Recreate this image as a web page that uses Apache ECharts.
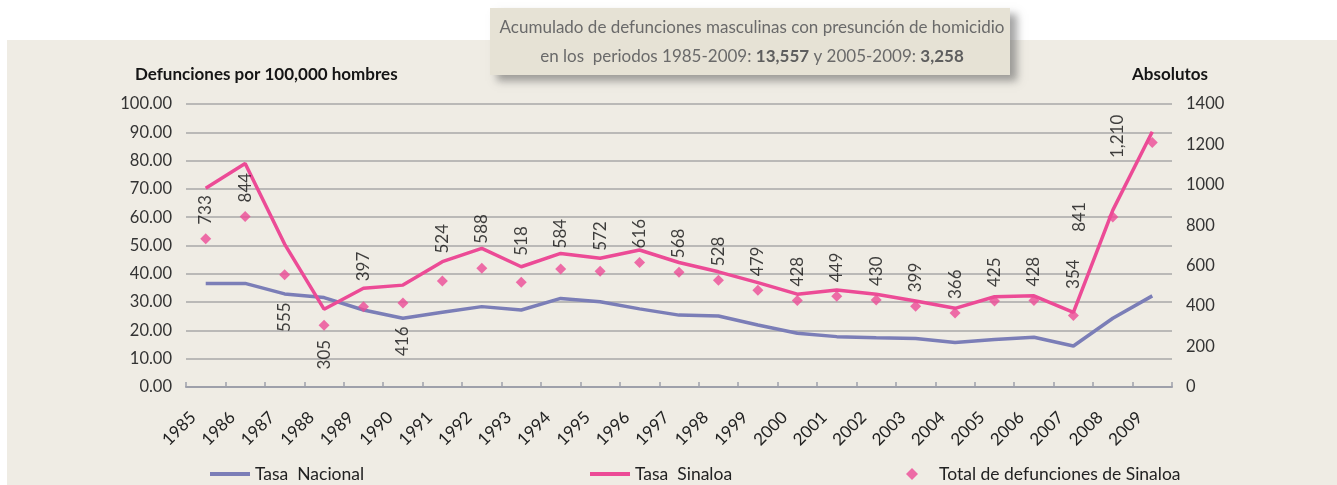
<!DOCTYPE html>
<html>
<head>
<meta charset="utf-8">
<script src="https://cdn.jsdelivr.net/npm/echarts@6/dist/echarts.min.js"></script>
<style>
  html, body { margin: 0; padding: 0; background: #ffffff; }
  #chart { width: 1337px; height: 485px; }
</style>
</head>
<body>
<div id="chart"></div>
<script>
// Homicidios masculinos: tasas por 100,000 hombres y total de defunciones en Sinaloa
const years = ['1985','1986','1987','1988','1989','1990','1991','1992','1993','1994','1995','1996','1997',
               '1998','1999','2000','2001','2002','2003','2004','2005','2006','2007','2008','2009'];
const tasaNacional = [36.6, 36.6, 32.9, 31.6, 27.2, 24.3, 26.4, 28.4, 27.2, 31.3, 30.1, 27.6, 25.4,
                      25.1, 21.9, 19.0, 17.8, 17.4, 17.1, 15.7, 16.8, 17.6, 14.5, 24.3, 32.2];
const tasaSinaloa = [70.2, 79.0, 50.5, 27.5, 34.9, 36.0, 44.3, 49.0, 42.5, 47.2, 45.5, 48.4, 44.0,
                     40.7, 36.9, 32.8, 34.3, 32.8, 30.4, 27.8, 31.9, 32.2, 26.4, 62.5, 90.2];
const totalSinaloa = [733, 844, 555, 305, 397, 416, 524, 588, 518, 584, 572, 616, 568,
                      528, 479, 428, 449, 430, 399, 366, 425, 428, 354, 841, 1210];

const seriesNames = ['Tasa  Nacional', 'Tasa  Sinaloa', 'Total de defunciones de Sinaloa'];
const leftAxisName = 'Defunciones por 100,000 hombres';
const rightAxisName = 'Absolutos';

const FONT = 'Lato, "Open Sans", sans-serif';
const PINK = '#EC4B96';
const BLUE = '#7B7EB7';

const fmt = n => n.toLocaleString('en-US');
const sumFrom = start => totalSinaloa.slice(years.indexOf(start)).reduce((a, b) => a + b, 0);

// Where each value label sits around its diamond (default: above, small gap)
const labelLayout = {
  '1987': { side: 'below', gap: 22 },
  '1988': { side: 'below', gap: 9 },
  '1989': { side: 'above', gap: 20 },
  '1990': { side: 'below', gap: 18 },
  '1991': { side: 'above', gap: 22 },
  '1992': { side: 'above', gap: 19 },
  '1993': { side: 'above', gap: 21 },
  '1994': { side: 'above', gap: 15 },
  '1995': { side: 'above', gap: 15 },
  '2007': { side: 'above', gap: 21 },
  '2008': { side: 'left', pos: [-27.5, 5.5] },
  '2009': { side: 'left', pos: [-29.5, -0.5] }
};

function pointLabel(year) {
  const l = labelLayout[year] || { side: 'above', gap: 8.5 };
  const base = {
    show: true, rotate: 90, fontFamily: FONT, fontSize: 17, color: '#111',
    formatter: p => fmt(p.value)
  };
  if (l.side === 'above') return Object.assign(base, { position: 'top', distance: l.gap, align: 'left', verticalAlign: 'middle' });
  if (l.side === 'below') return Object.assign(base, { position: 'bottom', distance: l.gap, align: 'right', verticalAlign: 'middle' });
  return Object.assign(base, { position: l.pos, align: 'center', verticalAlign: 'middle' });
}

const chart = echarts.init(document.getElementById('chart'), null, { renderer: 'canvas' });

const legendText = { fontFamily: FONT, fontSize: 17.5, color: '#222' };

chart.setOption({
  backgroundColor: '#ffffff',
  animation: false,
  graphic: [
    { type: 'rect', z: -10, silent: true, shape: { x: 7, y: 40, width: 1330, height: 445 }, style: { fill: '#EFECE4' } },
    { type: 'rect', z: 10, silent: true, shape: { x: 490, y: 8, width: 520, height: 67 },
      style: { fill: '#E6E2D5', shadowBlur: 8, shadowOffsetX: 7, shadowOffsetY: 6, shadowColor: 'rgba(90,90,90,0.55)' } },
    { type: 'text', z: 11, silent: true, x: 752, y: 28,
      style: { text: 'Acumulado de defunciones masculinas con presunción de homicidio', fontFamily: FONT, fontSize: 17,
               fill: '#6A6A6A', align: 'center', verticalAlign: 'middle' } },
    { type: 'text', z: 11, silent: true, x: 752, y: 57,
      style: { text: 'en los  periodos 1985-2009: {b|' + fmt(sumFrom('1985')) + '} y 2005-2009: {b|' + fmt(sumFrom('2005')) + '}',
               fontFamily: FONT, fontSize: 17, fill: '#6A6A6A', align: 'center', verticalAlign: 'middle',
               rich: { b: { fontFamily: FONT, fontSize: 17, fontWeight: 'bold', fill: '#5E5E5E', color: '#5E5E5E' } } } },
    { type: 'text', silent: true, x: 135, y: 75,
      style: { text: leftAxisName, fontFamily: FONT, fontSize: 17, fontWeight: 'bold', fill: '#151515', verticalAlign: 'middle' } },
    { type: 'text', silent: true, x: 1132, y: 75,
      style: { text: rightAxisName, fontFamily: FONT, fontSize: 17, fontWeight: 'bold', fill: '#151515', verticalAlign: 'middle' } }
  ],
  grid: { left: 186, right: 165, top: 104, bottom: 98 },
  legend: [
    { data: [seriesNames[0]], left: 205, top: 460, icon: 'rect', itemWidth: 40, itemHeight: 4, textStyle: legendText, selectedMode: false },
    { data: [seriesNames[1]], left: 585, top: 460, icon: 'rect', itemWidth: 40, itemHeight: 4, textStyle: legendText, selectedMode: false },
    { data: [seriesNames[2]], left: 901, top: 460, icon: 'diamond', itemWidth: 12, itemHeight: 12,
      textStyle: Object.assign({ padding: [0, 0, 0, 16] }, legendText), selectedMode: false }
  ],
  xAxis: {
    type: 'category',
    data: years,
    boundaryGap: true,
    axisLine: { lineStyle: { color: '#9EA0AA', width: 2 } },
    axisTick: { show: true, inside: true, length: 5, alignWithLabel: false, lineStyle: { color: '#9EA0AA', width: 1.5 } },
    axisLabel: { rotate: 45, margin: 15, interval: 0, fontFamily: FONT, fontSize: 17, color: '#222', padding: [0, 18, 0, 0] },
    splitLine: { show: false }
  },
  yAxis: [
    {
      type: 'value', min: 0, max: 100, interval: 10,
      axisLine: { show: false }, axisTick: { show: false },
      axisLabel: { margin: 14, fontFamily: FONT, fontSize: 16.5, color: '#333', formatter: v => v.toFixed(2) },
      splitLine: { lineStyle: { color: '#A9A9A9', width: 1.5 } }
    },
    {
      type: 'value', min: 0, max: 1400, interval: 200,
      axisLine: { show: false }, axisTick: { show: false },
      axisLabel: { margin: 14, fontFamily: FONT, fontSize: 16.5, color: '#333', formatter: v => String(v) },
      splitLine: { show: false }
    }
  ],
  series: [
    { name: seriesNames[0], type: 'line', yAxisIndex: 0, data: tasaNacional, symbol: 'none',
      itemStyle: { color: BLUE }, lineStyle: { color: BLUE, width: 3.5 }, z: 2 },
    { name: seriesNames[1], type: 'line', yAxisIndex: 0, data: tasaSinaloa, symbol: 'none',
      itemStyle: { color: PINK }, lineStyle: { color: PINK, width: 3.5 }, z: 3 },
    { name: seriesNames[2], type: 'scatter', yAxisIndex: 1, symbol: 'diamond', symbolSize: 11,
      itemStyle: { color: PINK }, z: 4,
      data: totalSinaloa.map((v, i) => ({ value: v, label: pointLabel(years[i]) })) }
  ]
});
</script>
</body>
</html>
